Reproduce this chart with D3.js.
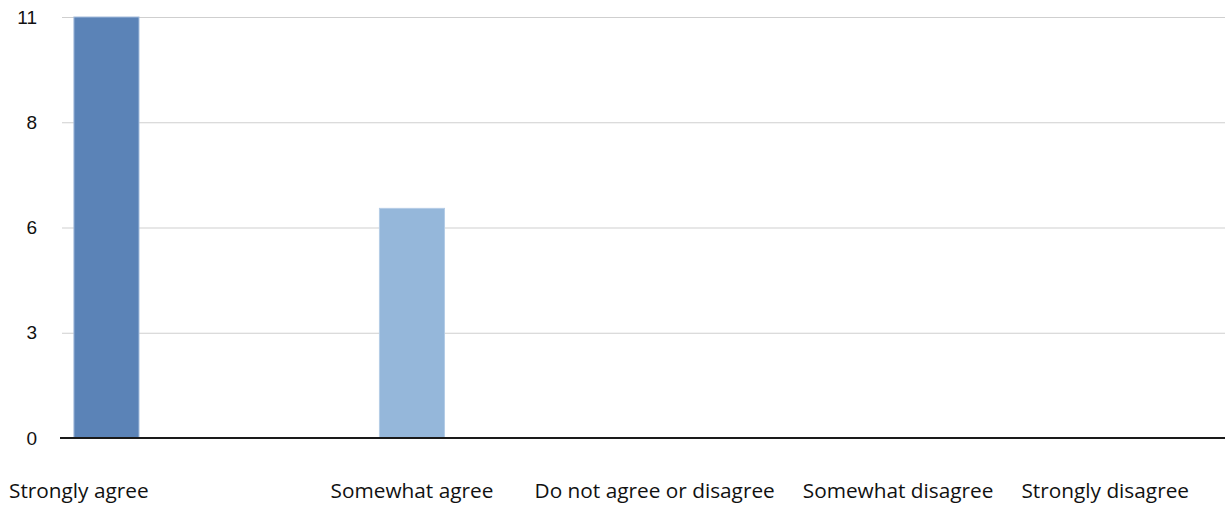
<!DOCTYPE html>
<html>
<head>
<meta charset="utf-8">
<script src="https://cdn.jsdelivr.net/npm/d3@7"></script>
<style>
  body { margin: 0; background: #fff; }
  svg { display: block; }
</style>
</head>
<body>
<div id="chart"></div>
<script>
// Survey responses bar chart
const categories = ["Strongly agree", "Somewhat agree", "Do not agree or disagree", "Somewhat disagree", "Strongly disagree"];
const counts = [11, 6, 0, 0, 0];
const yTicks = [0, 2.75, 5.5, 8.25, 11];
const barColors = ["#5b83b7", "#95b7da", "#95b7da", "#95b7da", "#95b7da"];
const barEdges = ["#a3bcdc", "#b4cce6", "#b4cce6", "#b4cce6", "#b4cce6"];

const width = 1225;
const height = 506;
const plotLeft = 62;
const plotTop = 17;
const plotBottom = 438;

const svg = d3.select("#chart")
    .append("svg")
    .attr("width", width)
    .attr("height", height);

// Scales
const xScale = d3.scaleBand()
    .domain(categories)
    .range([plotLeft, 1373])
    .paddingInner(0.787)
    .paddingOuter(0.039);

const yScale = d3.scaleLinear()
    .domain([0, 11])
    .range([plotBottom, plotTop]);

// Gridlines
svg.append("g")
    .attr("class", "grid")
    .attr("transform", `translate(${plotLeft},0)`)
    .call(d3.axisLeft(yScale).tickValues(yTicks).tickSize(-(width - plotLeft)).tickFormat(""))
    .call(g => g.select(".domain").remove())
    .call(g => g.selectAll("line").attr("stroke", "#cfcfcf").attr("stroke-width", 1));

// Y labels
svg.append("g")
    .attr("class", "y-axis")
    .attr("transform", "translate(37,0)")
    .call(d3.axisLeft(yScale).tickValues(yTicks).tickSize(0).tickPadding(0).tickFormat(d => Math.round(d)))
    .call(g => g.select(".domain").remove())
    .call(g => g.selectAll("text")
        .attr("font-family", "Liberation Sans, Arial, sans-serif")
        .attr("font-size", 19)
        .attr("fill", "#111"));

// Bars
svg.selectAll(".bar")
    .data(categories)
    .enter()
    .append("rect")
    .attr("class", "bar")
    .attr("x", d => xScale(d))
    .attr("y", (d, i) => yScale(counts[i]))
    .attr("width", xScale.bandwidth())
    .attr("height", (d, i) => plotBottom - yScale(counts[i]))
    .attr("fill", (d, i) => barColors[i])
    .attr("stroke", (d, i) => counts[i] > 0 ? barEdges[i] : "none")
    .attr("stroke-width", 1);

// Baseline
svg.append("line")
    .attr("x1", 60)
    .attr("x2", width)
    .attr("y1", yScale(0))
    .attr("y2", yScale(0))
    .attr("stroke", "#1a1a1a")
    .attr("stroke-width", 2);

// Category labels: first at left margin, others at band centre,
// pushed left so they stay inside the picture without overlapping
const labels = svg.append("g")
    .attr("class", "x-labels")
    .selectAll("text")
    .data(categories)
    .enter()
    .append("text")
    .attr("y", 498)
    .attr("font-family", "Open Sans, sans-serif")
    .attr("font-size", 20.8)
    .attr("fill", "#111")
    .text(d => d);

const widths = [];
labels.each(function() { widths.push(this.getComputedTextLength()); });
const lefts = categories.map((d, i) => xScale(d) + xScale.bandwidth() / 2 - widths[i] / 2);
lefts[0] = 9;
let limit = 1189;
for (let i = categories.length - 1; i > 0; i--) {
    lefts[i] = Math.min(lefts[i], limit - widths[i]);
    limit = lefts[i] - 28;
}
labels.attr("x", (d, i) => lefts[i]);
</script>
</body>
</html>
